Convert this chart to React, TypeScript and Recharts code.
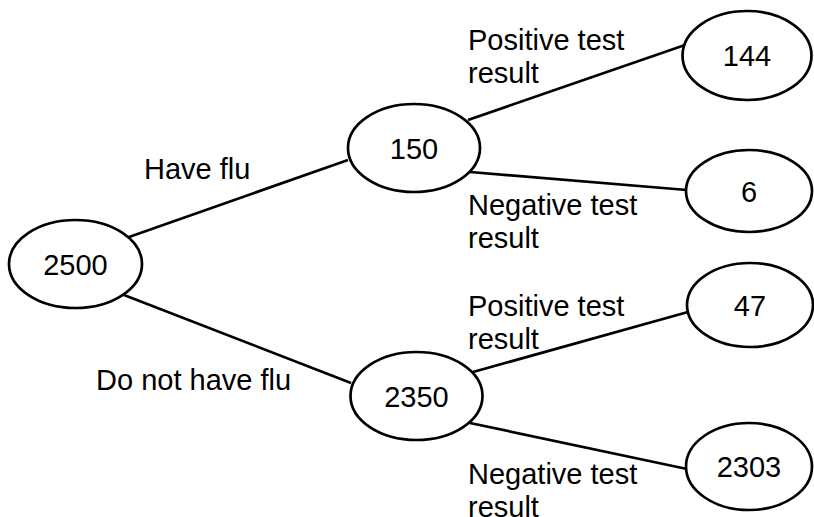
import { ReferenceLine, Scatter, ScatterChart, XAxis, YAxis } from "recharts";

// diagram space: 814 x 517 units, y grows downward
const nodeValues = [2500, 150, 2350, 144, 6, 47, 2303];
const nodeX = [75.5, 414, 416.5, 747, 749, 750, 749];
const nodeY = [264, 148, 396, 55.5, 191, 305, 466.5];
const nodeRx = [66.5, 66, 66, 64.5, 63, 63, 63];
const nodeRy = [44, 44, 44, 44.5, 41, 42, 43.5];

// branch segments, start and end points on the ellipse edges
const edgeFrom = [
  { x: 129, y: 237 },
  { x: 124, y: 295 },
  { x: 468, y: 120 },
  { x: 470, y: 172 },
  { x: 473, y: 372 },
  { x: 470, y: 423 },
];
const edgeTo = [
  { x: 348, y: 160 },
  { x: 351, y: 383 },
  { x: 685, y: 45 },
  { x: 687, y: 190 },
  { x: 688, y: 312 },
  { x: 687, y: 469 },
];

const branchText = [
  ["Have flu"],
  ["Do not have flu"],
  ["Positive test", "result"],
  ["Negative test", "result"],
  ["Positive test", "result"],
  ["Negative test", "result"],
];
const branchX = [144, 96, 468, 468, 468, 468];
const branchY = [179, 390, 50, 215, 316, 484];

const nodes = nodeValues.map((v, i) => ({
  value: v,
  x: nodeX[i],
  y: nodeY[i],
  rx: nodeRx[i],
  ry: nodeRy[i],
}));
const labels = branchText.map((lines, i) => ({
  lines,
  x: branchX[i],
  y: branchY[i],
}));

const FONT = "'Liberation Sans', Arial, sans-serif";

function NodeShape(props: any) {
  const { cx, cy, payload } = props;
  return (
    <g>
      <ellipse
        cx={cx}
        cy={cy}
        rx={payload.rx}
        ry={payload.ry}
        fill="#fff"
        stroke="#000"
        strokeWidth={2.7}
      />
      <text
        x={cx}
        y={cy + 10.5}
        textAnchor="middle"
        fontFamily={FONT}
        fontSize={29}
        fill="#000"
      >
        {payload.value}
      </text>
    </g>
  );
}

function LabelShape(props: any) {
  const { cx, cy, payload } = props;
  return (
    <text x={cx} y={cy} fontFamily={FONT} fontSize={29} fill="#000">
      {payload.lines.map((l: string, i: number) => (
        <tspan key={i} x={cx} dy={i === 0 ? 0 : 33}>
          {l}
        </tspan>
      ))}
    </text>
  );
}

export default function App() {
  return (
    <div style={{ position: "absolute", left: 0, top: 0, background: "#fff" }}>
      <ScatterChart
        width={814}
        height={517}
        margin={{ top: 0, right: 0, bottom: 0, left: 0 }}
      >
        <XAxis type="number" dataKey="x" domain={[0, 814]} allowDataOverflow hide />
        <YAxis
          type="number"
          dataKey="y"
          domain={[0, 517]}
          allowDataOverflow
          reversed
          hide
        />

        {/* branches */}
        {edgeFrom.map((p, i) => (
          <ReferenceLine
            key={i}
            segment={[p, edgeTo[i]]}
            stroke="#000"
            strokeWidth={2.7}
            ifOverflow="visible"
          />
        ))}

        {/* branch labels */}
        <Scatter data={labels} shape={LabelShape} isAnimationActive={false} />

        {/* counts */}
        <Scatter data={nodes} shape={NodeShape} isAnimationActive={false} />
      </ScatterChart>
    </div>
  );
}
